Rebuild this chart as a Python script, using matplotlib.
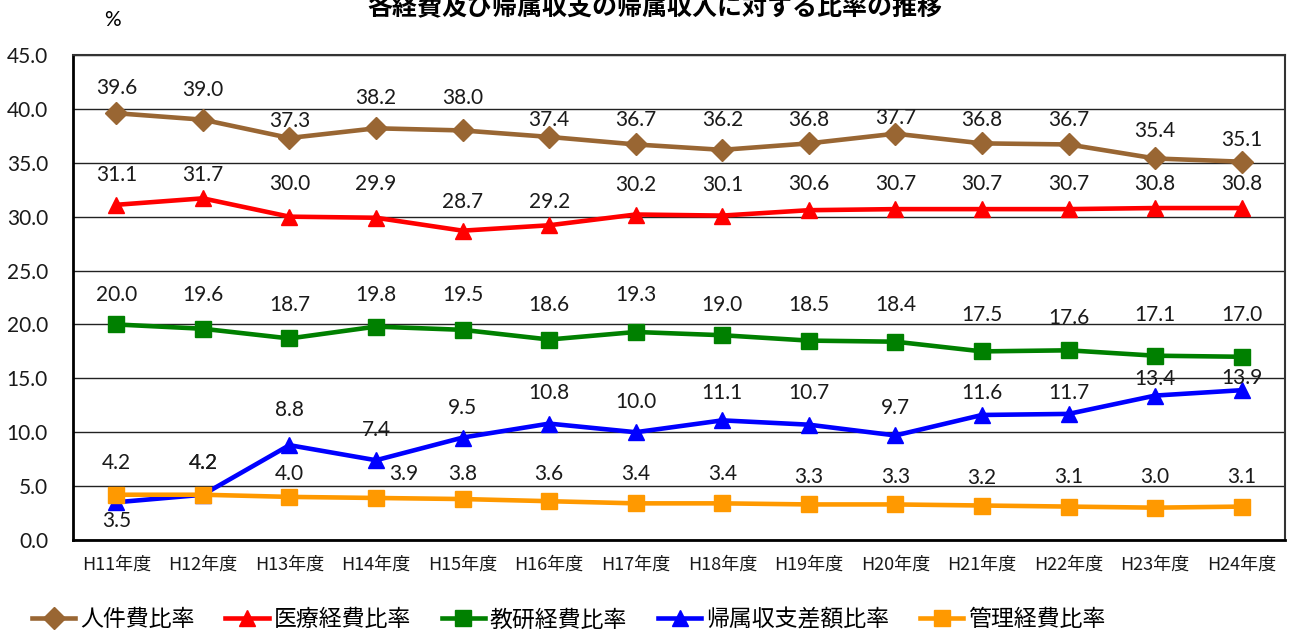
import matplotlib.pyplot as plt
import numpy as np

years = ['H11年度', 'H12年度', 'H13年度', 'H14年度', 'H15年度', 'H16年度', 'H17年度',
         'H18年度', 'H19年度', 'H20年度', 'H21年度', 'H22年度', 'H23年度', 'H24年度']

jinken = [39.6, 39.0, 37.3, 38.2, 38.0, 37.4, 36.7, 36.2, 36.8, 37.7, 36.8, 36.7, 35.4, 35.1]
iryo = [31.1, 31.7, 30.0, 29.9, 28.7, 29.2, 30.2, 30.1, 30.6, 30.7, 30.7, 30.7, 30.8, 30.8]
kyoken = [20.0, 19.6, 18.7, 19.8, 19.5, 18.6, 19.3, 19.0, 18.5, 18.4, 17.5, 17.6, 17.1, 17.0]
kizoku = [3.5, 4.2, 8.8, 7.4, 9.5, 10.8, 10.0, 11.1, 10.7, 9.7, 11.6, 11.7, 13.4, 13.9]
kanri = [4.2, 4.2, 4.0, 3.9, 3.8, 3.6, 3.4, 3.4, 3.3, 3.3, 3.2, 3.1, 3.0, 3.1]

names = ['人件費比率', '医療経費比率', '教研経費比率', '帰属収支差額比率', '管理経費比率']

# label offsets (pixels) so the value labels sit where they are readable
up_jinken = [25, 30, 17, 30, 32, 17, 24, 30, 23, 16, 23, 24, 27, 22]
up_iryo = [30, 23, 33, 34, 29, 23, 30, 31, 26, 25, 25, 25, 24, 24]
up_kyoken = [29, 34, 33, 32, 35, 35, 37, 30, 36, 37, 36, 32, 41, 42]
up_kizoku = [-19, 32, 35, 30, 30, 31, 30, 27, 32, 27, 22, 21, 17, 12]
up_kanri = [32, 32, 23, 24, 25, 27, 29, 29, 27, 27, 28, 30, 31, 30]
dx_kanri = [0, 0, 0, 28, 0, 0, 0, 0, 0, 0, 0, 0, 0, 0]
dx_none = [0] * 14

jp = ['Noto Sans CJK JP', 'DejaVu Sans']
num = ['Lato', 'DejaVu Sans']

fig = plt.figure(figsize=(12.92, 6.32), dpi=100)
ax = fig.add_axes([73 / 1292, 1 - 540 / 632, 1212 / 1292, 485 / 632])

x = np.arange(len(years))
series = [
    (jinken, '#996633', 'D', 11, up_jinken, dx_none),
    (iryo, '#FF0000', '^', 12, up_iryo, dx_none),
    (kyoken, '#008000', 's', 12, up_kyoken, dx_none),
    (kizoku, '#0000FF', '^', 12, up_kizoku, dx_none),
    (kanri, '#FF9900', 's', 12, up_kanri, dx_kanri),
]

for (vals, col, mk, ms, ups, dxs), nm in zip(series, names):
    ax.plot(x, vals, color=col, lw=3.3, marker=mk, markersize=ms, label=nm, zorder=3)
    for i, v in enumerate(vals):
        ax.annotate('%.1f' % v, (x[i], v), xytext=(dxs[i], ups[i]), textcoords='offset pixels',
                    ha='center', va='center', fontsize=15, family=num, color='#1a1a1a', zorder=4)

ax.set_xlim(-0.5, len(years) - 0.5)
ax.set_ylim(0, 45)
ax.set_yticks(np.arange(0, 45.1, 5))
ax.set_yticklabels(['%.1f' % t for t in np.arange(0, 45.1, 5)], family=num, fontsize=15)
ax.set_xticks(x)
ax.set_xticklabels(years, family=jp, fontsize=13)
ax.tick_params(axis='y', length=0, pad=18, colors='#1a1a1a')
ax.tick_params(axis='x', length=0, pad=11, colors='#1a1a1a')
ax.yaxis.grid(True, color='#222222', lw=1)
ax.set_axisbelow(True)
for s in ['left', 'bottom']:
    ax.spines[s].set_linewidth(2)
for s in ['top', 'right']:
    ax.spines[s].set_linewidth(1.5)
    ax.spines[s].set_color('#333333')

fig.text(112 / 1292, 1 - 20 / 632, '%', ha='center', va='center', fontsize=15, family=num)
fig.text(655 / 1292, 1 - 15 / 632, '各経費及び帰属収支の帰属収入に対する比率の推移',
         ha='center', va='baseline', fontsize=18, fontweight='bold', family=jp)

fig.legend(loc='center left', bbox_to_anchor=(32 / 1292, 1 - 620 / 632), ncol=5, frameon=False,
           prop={'family': jp, 'size': 16.5}, handlelength=1.88, handletextpad=0.22,
           columnspacing=1.35, borderaxespad=0, borderpad=0)

fig.savefig('out.png', dpi=100)
